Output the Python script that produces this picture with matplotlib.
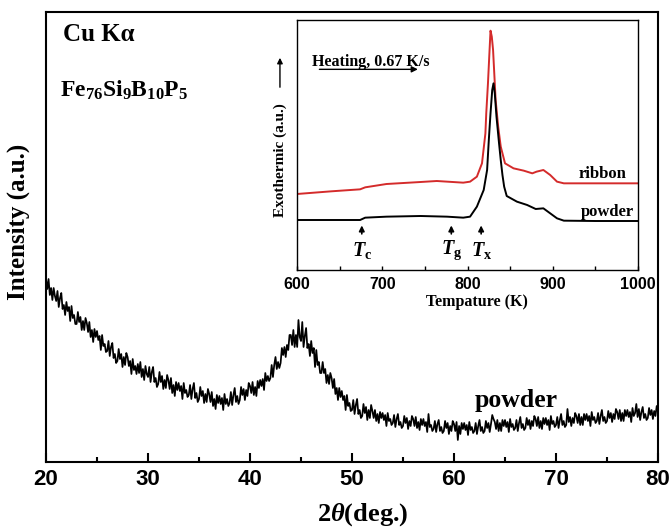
import numpy as np
import matplotlib
matplotlib.use("Agg")
import matplotlib.pyplot as plt
from matplotlib.ticker import MultipleLocator

plt.rcParams['mathtext.fontset'] = 'custom'
plt.rcParams['mathtext.rm'] = 'Liberation Serif:bold'
plt.rcParams['mathtext.it'] = 'Liberation Serif:italic:bold'
plt.rcParams['mathtext.bf'] = 'Liberation Serif:bold'
plt.rcParams['mathtext.default'] = 'regular'

SERIF = 'Liberation Serif'
SANS = 'Liberation Sans'

# ---- XRD pattern (powder), 2theta = 20..80 step 0.125 ----
two_theta = np.arange(20.0, 80.0001, 0.125)
intensity = [
    183, 173, 183, 167, 174, 162, 174, 166,   # 20
    161, 171, 155, 164, 169, 153, 157, 147,   # 21
    160, 151, 155, 141, 156, 144, 147, 138,   # 22
    138, 150, 140, 145, 132, 141, 132, 144,   # 23
    139, 130, 140, 125, 132, 120, 133, 125,   # 24
    131, 122, 126, 112, 127, 116, 118, 110,   # 25
    111, 121, 106, 115, 119, 104, 108, 99,    # 26
    101, 113, 103, 108, 95, 105, 97, 109,     # 27
    105, 96, 101, 88, 103, 92, 96, 88,        # 28
    98, 89, 100, 85, 93, 82, 96, 88,          # 29
    85, 95, 80, 90, 95, 80, 84, 75,           # 30
    78, 90, 80, 86, 73, 82, 74, 87,           # 31
    82, 73, 84, 69, 77, 66, 80, 72,           # 32
    79, 71, 76, 63, 79, 69, 72, 65,           # 33
    67, 77, 63, 73, 79, 64, 69, 60,           # 34
    63, 75, 66, 71, 59, 68, 60, 73,           # 35
    68, 60, 70, 56, 63, 53, 67, 59,           # 36
    66, 58, 64, 52, 68, 58, 63, 56,           # 37
    59, 70, 57, 67, 74, 60, 66, 58,           # 38
    62, 75, 67, 73, 62, 72, 66, 79,           # 39
    76, 69, 80, 67, 75, 66, 81, 74,           # 40
    82, 76, 83, 72, 89, 81, 86, 81,           # 41
    84, 97, 85, 97, 105, 93, 100, 94,         # 42
    99, 114, 107, 115, 105, 117, 112, 127,    # 43
    127, 117, 132, 115, 127, 115, 142, 125,   # 44
    121, 140, 115, 126, 134, 114, 118, 106,   # 45
    121, 109, 114, 95, 112, 97, 100, 89,      # 46
    89, 100, 89, 93, 79, 87, 78, 89,          # 47
    84, 74, 83, 68, 74, 62, 74, 65,           # 48
    71, 62, 66, 52, 67, 56, 59, 51,           # 49
    52, 62, 48, 57, 63, 48, 52, 44,           # 50
    46, 58, 49, 55, 42, 52, 44, 57,           # 51
    51, 44, 52, 41, 48, 39, 50, 44,           # 52
    49, 42, 47, 36, 49, 41, 43, 37,           # 53
    39, 47, 35, 43, 48, 37, 40, 34,           # 54
    36, 46, 39, 44, 33, 41, 36, 46,           # 55
    43, 36, 45, 34, 40, 32, 43, 37,           # 56
    43, 36, 40, 30, 48, 35, 37, 31,           # 57
    33, 41, 30, 38, 42, 31, 35, 29,           # 58
    31, 41, 34, 39, 28, 36, 31, 41,           # 59
    38, 31, 40, 22, 36, 28, 39, 33,           # 60
    39, 32, 37, 27, 40, 32, 35, 29,           # 61
    31, 39, 28, 36, 42, 31, 35, 29,           # 62
    31, 41, 34, 39, 30, 38, 47, 43,           # 63
    40, 33, 42, 31, 39, 31, 42, 36,           # 64
    42, 35, 40, 30, 43, 35, 38, 32,           # 65
    34, 42, 31, 39, 45, 34, 38, 32,           # 66
    34, 44, 37, 42, 33, 41, 36, 46,           # 67
    43, 36, 45, 34, 41, 33, 44, 38,           # 68
    44, 37, 42, 32, 46, 38, 41, 35,           # 69
    37, 45, 34, 42, 48, 37, 41, 35,           # 70
    37, 53, 40, 45, 36, 44, 39, 49,           # 71
    46, 39, 48, 37, 45, 37, 48, 42,           # 72
    48, 41, 46, 36, 50, 42, 45, 39,           # 73
    41, 49, 38, 46, 52, 41, 45, 39,           # 74
    41, 51, 44, 49, 40, 48, 43, 53,           # 75
    50, 43, 52, 41, 49, 41, 52, 46,           # 76
    52, 45, 50, 40, 54, 46, 49, 58,           # 77
    45, 53, 42, 50, 55, 44, 48, 42,           # 78
    44, 54, 47, 52, 43, 51, 46, 56,           # 79
    50,                                       # 80
]

# ---- DSC inset ----
temp_ribbon = [600, 640, 674, 680, 705, 745, 764, 795, 803, 811, 817, 821, 822,
               824, 825.5, 827, 828.5, 830, 831, 833, 836, 839, 844, 854, 866,
               876, 881, 889, 897, 905, 913, 950, 1000]
dsc_ribbon = [228, 236, 242, 248, 258, 264, 267, 262, 265, 280, 320, 410, 470,
              560, 640, 718, 700, 660, 610, 510, 430, 370, 320, 305, 298,
              290, 295, 300, 285, 265, 260, 260, 260]

temp_powder = [600, 640, 674, 680, 705, 745, 776, 795, 803, 811, 819, 823, 825,
               827, 829, 830.5, 832, 834, 837, 839, 841, 843, 846, 858, 870,
               880, 889, 897, 905, 913, 950, 1000]
dsc_powder = [150, 150, 150, 157, 160, 162, 160, 157, 160, 190, 240, 300, 390,
              470, 540, 560, 530, 460, 380, 330, 285, 250, 222, 205, 195,
              183, 185, 170, 155, 148, 147, 147]

marker_names = [r'$\mathit{T}_\mathrm{c}$', r'$\mathit{T}_\mathrm{g}$', r'$\mathit{T}_\mathrm{x}$']
marker_temps = [676, 781, 816]

main_ticks = [20, 30, 40, 50, 60, 70, 80]
inset_ticks = [600, 700, 800, 900, 1000]

W, H = 672, 531
fig = plt.figure(figsize=(W / 100, H / 100), dpi=100)

def fx(px):
    return px / W

def fy(py):
    return 1 - py / H

# main axes
ax = fig.add_axes([fx(46), fy(462), fx(658) - fx(46), fy(12) - fy(462)])
ax.plot(two_theta, intensity, color='black', lw=1.25)
ax.set_xlim(20, 80)
ax.set_ylim(0, 450)
ax.set_xticks(main_ticks)
ax.xaxis.set_minor_locator(MultipleLocator(5))
ax.set_yticks([])
ax.tick_params(axis='x', which='major', direction='in', length=6.5, width=1.5,
               labelsize=16, pad=5)
ax.tick_params(axis='x', which='minor', direction='in', length=3.5, width=1.5)
for lab in ax.get_xticklabels():
    lab.set_fontfamily(SANS)
    lab.set_fontweight('bold')
for s in ax.spines.values():
    s.set_linewidth(1.5)

ax.text(0.028, 0.951, 'Cu K\u03b1', transform=ax.transAxes, fontsize=18,
        fontfamily=SERIF, fontweight='bold', ha='left', va='center')
ax.text(0.023, 0.827, r'Fe$_{76}$Si$_{9}$B$_{10}$P$_{5}$', transform=ax.transAxes,
        fontsize=17, fontfamily=SERIF, fontweight='bold', ha='left', va='center')
ax.text(62.0, 62, 'powder', fontsize=18.5, fontfamily=SERIF, fontweight='bold',
        ha='left', va='center')

fig.text(fx(18), fy(222), 'Intensity (a.u.)', rotation=90, ha='center', va='center',
         fontsize=18, fontfamily=SERIF, fontweight='bold')
fig.text(fx(363), fy(515), r'2$\mathit{\theta}$(deg.)', ha='center', va='center',
         fontsize=19, fontfamily=SERIF, fontweight='bold')

# inset axes
ax2 = fig.add_axes([fx(297), fy(270), fx(638) - fx(297), fy(20) - fy(270)])
ax2.plot(temp_ribbon, dsc_ribbon, color='#d42b2b', lw=1.4)
ax2.plot(temp_powder, dsc_powder, color='black', lw=1.4)
ax2.set_xlim(600, 1000)
ax2.set_ylim(0, 750)
ax2.set_xticks(inset_ticks)
ax2.xaxis.set_minor_locator(MultipleLocator(50))
ax2.set_yticks([])
ax2.tick_params(axis='x', which='both', direction='in', length=3, width=1.0,
                labelsize=11.5, pad=5)
for lab in ax2.get_xticklabels():
    lab.set_fontfamily(SANS)
    lab.set_fontweight('bold')
for s in ax2.spines.values():
    s.set_linewidth(1.0)

ax2.text(618, 625, 'Heating, 0.67 K/s', fontsize=11.5, fontfamily=SERIF,
         fontweight='bold', ha='left', va='center')
ax2.annotate('', xy=(745, 602), xytext=(623, 602),
             arrowprops=dict(arrowstyle='-|>', color='black', lw=1.0, mutation_scale=9))
ax2.text(986, 288, 'ribbon', fontsize=12, fontfamily=SERIF, fontweight='bold',
         ha='right', va='center')
ax2.text(995, 175, 'powder', fontsize=12, fontfamily=SERIF, fontweight='bold',
         ha='right', va='center')

for name, t in zip(marker_names, marker_temps):
    ax2.annotate('', xy=(t, 142), xytext=(t, 100),
                 arrowprops=dict(arrowstyle='-|>', color='black', lw=1.2, mutation_scale=8))
    ax2.text(t, 58, name, fontsize=14.5, fontfamily=SERIF, fontweight='bold',
             ha='center', va='center')

fig.text(fx(280), fy(160), 'Exothermic (a.u.)', rotation=90, ha='center', va='center',
         fontsize=11, fontfamily=SERIF, fontweight='bold')
ax2.annotate('', xy=(-0.05, 0.86), xytext=(-0.05, 0.72), xycoords='axes fraction',
             textcoords='axes fraction', annotation_clip=False,
             arrowprops=dict(arrowstyle='-|>', color='black', lw=1.0, mutation_scale=8))
fig.text(fx(477), fy(302), 'Tempature (K)', ha='center', va='center',
         fontsize=11.5, fontfamily=SERIF, fontweight='bold')

fig.savefig('out.png', dpi=100)
